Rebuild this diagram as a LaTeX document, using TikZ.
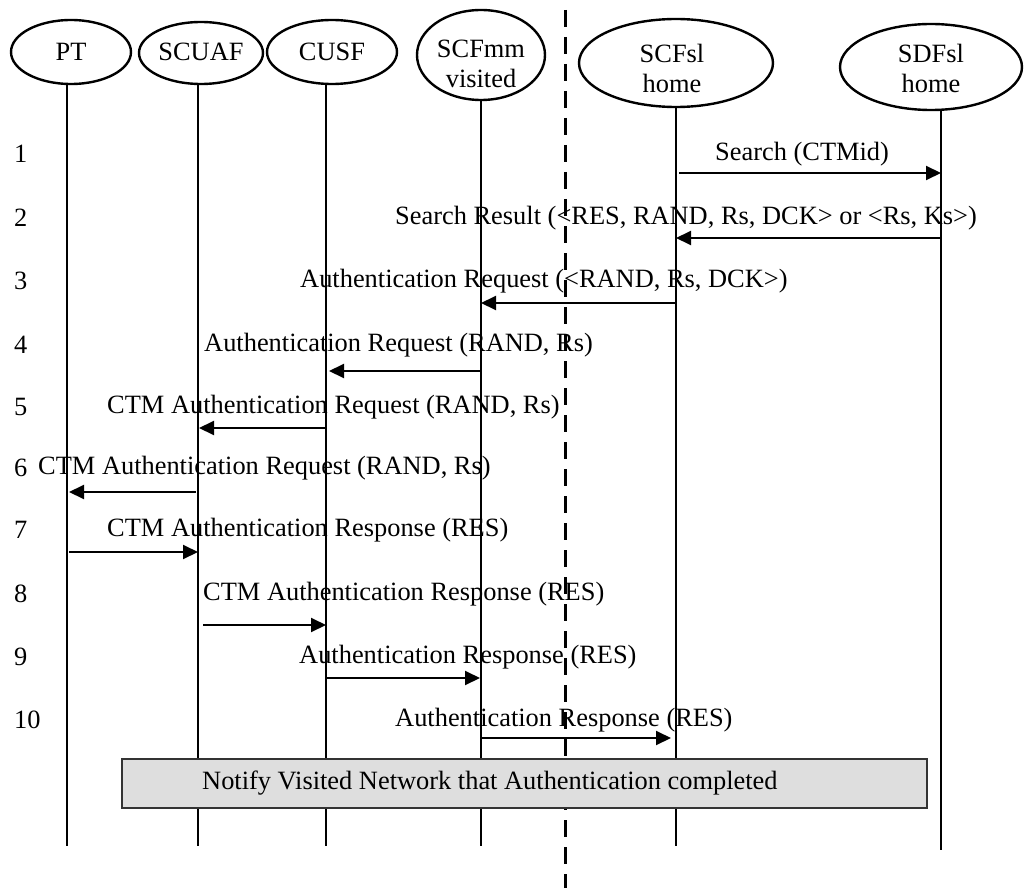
\documentclass[tikz,border=0pt]{standalone}
\usepackage{fontspec}
\setmainfont{Liberation Serif}
\usetikzlibrary{arrows.meta,shapes.geometric}
\begin{document}
\begin{tikzpicture}[x=1pt,y=-1pt,
  txt/.style={font=\fontsize{26.4}{30}\selectfont, inner sep=0pt, align=center},
  lbl/.style={txt, anchor=west},
  entity/.style={draw, ellipse, line width=2.4pt, fill=white, inner sep=0pt},
  lifeline/.style={line width=2pt},
  msg/.style={line width=2pt, -{Triangle[length=15pt,width=14pt]}},
  border/.style={line width=3pt, dash pattern=on 17pt off 10pt},
  notebox/.style={draw=black!80, line width=1.4pt, fill=black!13, inner sep=0pt}
]
\useasboundingbox (0,0) rectangle (1026,888);

% network border between visited and home side
\coordinate (bTop) at (565,10);
\coordinate (bBot) at (565,888);
\draw[border] (bTop) -- (bBot);

% lifeline heads and feet
\coordinate (pt)    at (67,60);   \coordinate (ptE)    at (67,846);
\coordinate (scuaf) at (198,60);  \coordinate (scuafE) at (198,846);
\coordinate (cusf)  at (326,60);  \coordinate (cusfE)  at (326,846);
\coordinate (mm)    at (481,60);  \coordinate (mmE)    at (481,846);
\coordinate (sl)    at (676,60);  \coordinate (slE)    at (676,846);
\coordinate (df)    at (941,60);  \coordinate (dfE)    at (941,850);

\foreach \a/\b in {pt/ptE, scuaf/scuafE, cusf/cusfE, mm/mmE, sl/slE, df/dfE}
  \draw[lifeline] (\a) -- (\b);

% functional entities
\node[entity, minimum width=120, minimum height=64] (ePT)    at (71,52)  {};
\node[entity, minimum width=124, minimum height=62] (eSCUAF) at (201,53) {};
\node[entity, minimum width=130, minimum height=64] (eCUSF)  at (332,52) {};
\node[entity, minimum width=128, minimum height=90] (eMM)    at (481,55) {};
\node[entity, minimum width=194, minimum height=88] (eSL)    at (676,63) {};
\node[entity, minimum width=182, minimum height=86] (eDF)    at (931,67) {};

\node[txt] (tPT)    at (71,52)  {PT};
\node[txt] (tSCUAF) at (201,52) {SCUAF};
\node[txt] (tCUSF)  at (332,52) {CUSF};
\node[txt] (tMM)    at (481,64) {SCFmm\\visited};
\node[txt] (tSL)    at (672,68) {SCFsl\\home};
\node[txt] (tDF)    at (931,68) {SDFsl\\home};

% message rows
\coordinate (r1)  at (0,173);
\coordinate (r2)  at (0,238);
\coordinate (r3)  at (0,303);
\coordinate (r4)  at (0,371);
\coordinate (r5)  at (0,428);
\coordinate (r6)  at (0,492);
\coordinate (r7)  at (0,552);
\coordinate (r8)  at (0,625);
\coordinate (r9)  at (0,678);
\coordinate (r10) at (0,738);

\draw[msg, shorten <=3pt]  (sl |- r1)    -- (df |- r1);
\draw[msg]                 (df |- r2)    -- (sl |- r2);
\draw[msg]                 (sl |- r3)    -- (mm |- r3);
\draw[msg, shorten >=3pt]  (mm |- r4)    -- (cusf |- r4);
\draw[msg, shorten >=1pt]  (cusf |- r5)  -- (scuaf |- r5);
\draw[msg, shorten <=2pt, shorten >=2pt] (scuaf |- r6) -- (pt |- r6);
\draw[msg, shorten <=2pt]  (pt |- r7)    -- (scuaf |- r7);
\draw[msg, shorten <=5pt]  (scuaf |- r8) -- (cusf |- r8);
\draw[msg, shorten >=1pt]  (cusf |- r9)  -- (mm |- r9);
\draw[msg, shorten >=5pt]  (mm |- r10)   -- (sl |- r10);

% step numbers
\node[lbl] (n1)  at (14,154) {1};
\node[lbl] (n2)  at (14,218) {2};
\node[lbl] (n3)  at (14,281) {3};
\node[lbl] (n4)  at (14,345) {4};
\node[lbl] (n5)  at (14,407) {5};
\node[lbl] (n6)  at (14,468) {6};
\node[lbl] (n7)  at (14,530) {7};
\node[lbl] (n8)  at (14,594) {8};
\node[lbl] (n9)  at (14,657) {9};
\node[lbl] (n10) at (14,720) {10};

% message labels
\node[lbl] (m1)  at (715,154) {Search (CTMid)};
\node[lbl] (m2)  at (395,218) {Search Result (<RES, RAND, Rs, DCK> or <Rs, Ks>)};
\node[lbl] (m3)  at (300,281) {Authentication Request (<RAND, Rs, DCK>)};
\node[lbl] (m4)  at (204,345) {Authentication Request (RAND, Rs)};
\node[lbl] (m5)  at (107,407) {CTM Authentication Request (RAND, Rs)};
\node[lbl] (m6)  at (38,468)  {CTM Authentication Request (RAND, Rs)};
\node[lbl] (m7)  at (107,530) {CTM Authentication Response (RES)};
\node[lbl] (m8)  at (203,594) {CTM Authentication Response (RES)};
\node[lbl] (m9)  at (299,657) {Authentication Response (RES)};
\node[lbl] (m10) at (395,720) {Authentication Response (RES)};

% closing procedure
\node[notebox, minimum width=805, minimum height=49] (notify) at (524.5,783.5) {};
\node[lbl] (notifyText) at (202,783) {Notify Visited Network that Authentication completed};
\end{tikzpicture}
\end{document}
